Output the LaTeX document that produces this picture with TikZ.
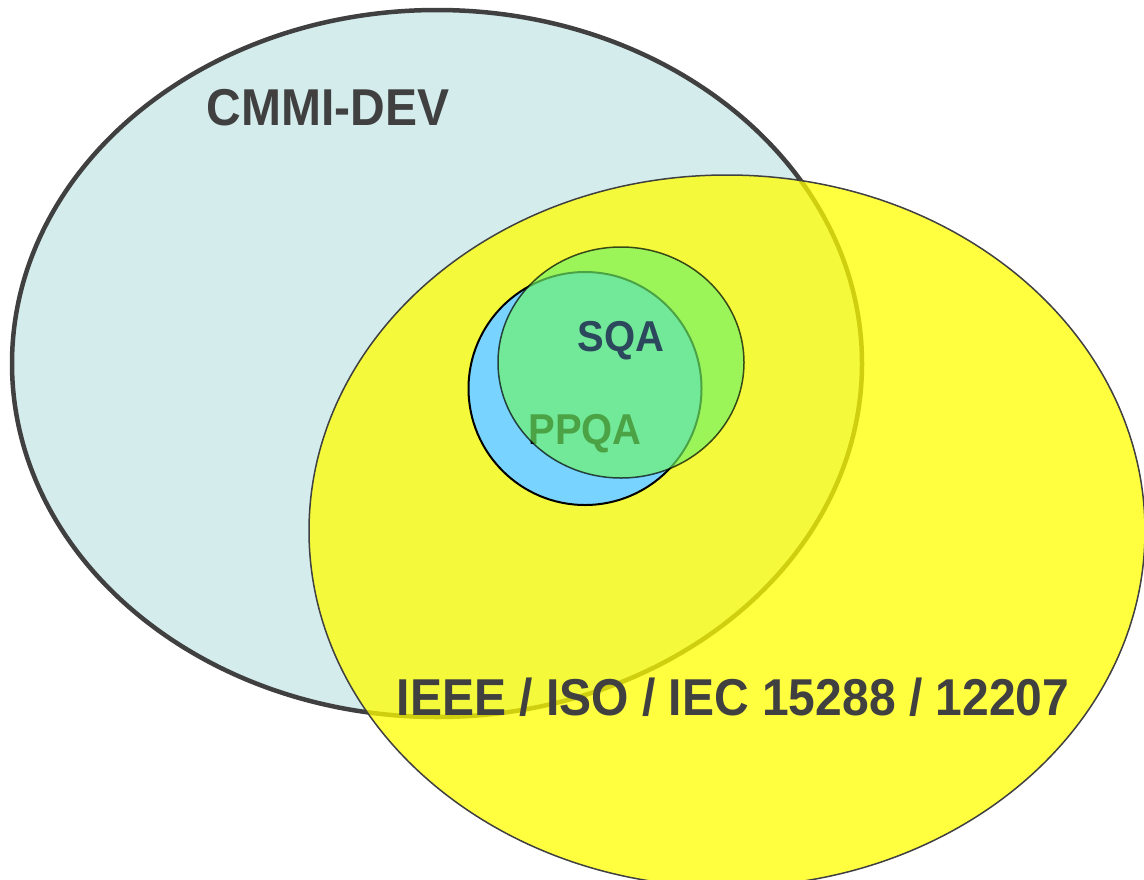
\documentclass[tikz,border=0pt]{standalone}
\usepackage{fontspec}
\usepackage{graphicx}
\setmainfont{Liberation Sans}
\definecolor{cmmifill}{RGB}{212,236,236}
\definecolor{darkline}{RGB}{64,64,64}
\definecolor{yellowfill}{RGB}{255,255,0}
\definecolor{bluefill}{RGB}{120,212,255}
\definecolor{greenfill}{RGB}{112,244,103}
\definecolor{sqatext}{RGB}{44,72,92}
\newcommand{\tallbox}[1]{\scalebox{1}[1.08]{#1}}
\tikzset{
  lbl/.style={font=\fontsize{48}{48}\selectfont\bfseries, text=darkline, inner sep=0pt},
  smalllbl/.style={font=\fontsize{40}{40}\selectfont\bfseries, inner sep=0pt},
}
\begin{document}
\begin{tikzpicture}[x=1pt,y=-1pt]
\useasboundingbox (0,0) rectangle (1144,879);
\fill[white] (0,0) rectangle (1144,879);
% CMMI-DEV ellipse
\draw[draw=darkline, line width=4.5pt, fill=cmmifill] (437,363.5) ellipse [x radius=425, y radius=353.5];
\node[lbl] (cmmi) at (328,108) {\tallbox{CMMI-DEV}};
% IEEE ellipse (semi-transparent yellow)
\fill[yellowfill, fill opacity=0.75] (727,531) ellipse [x radius=418, y radius=356];
\draw[draw=darkline, line width=1.5pt] (727,531) ellipse [x radius=418, y radius=356];
% PPQA circle
\draw[draw=black, line width=2pt, fill=bluefill] (585,388.5) circle [radius=116.5];
\node[smalllbl, text=black] (ppqa) at (585,434) {\tallbox{PPQA}};
% SQA circle
\fill[greenfill, fill opacity=0.67] (621,362.5) ellipse [x radius=123, y radius=115.5];
\draw[draw=black, draw opacity=0.7, line width=1.5pt] (621,362.5) ellipse [x radius=123, y radius=115.5];
\node[smalllbl, text=sqatext] (sqa) at (621,341) {\tallbox{SQA}};
\node[lbl] (ieee) at (733,697) {\tallbox{IEEE / ISO / IEC 15288 / 12207}};
\end{tikzpicture}
\end{document}
